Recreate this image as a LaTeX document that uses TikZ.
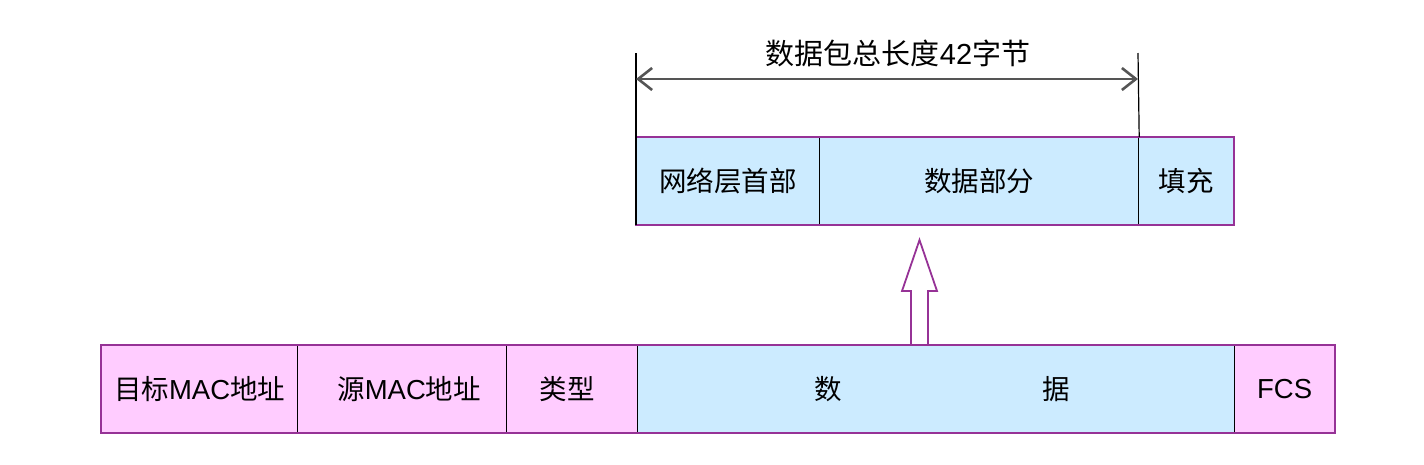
\documentclass[tikz,border=0pt]{standalone}
\usepackage{fontspec}
\setmainfont{Noto Sans CJK SC}
\newfontfamily\latin{Liberation Sans}
\usetikzlibrary{arrows.meta}
\definecolor{cellpink}{RGB}{255,204,255}
\definecolor{cellblue}{RGB}{204,235,255}
\definecolor{rim}{RGB}{150,50,150}
\definecolor{dimgray}{RGB}{85,85,85}

\begin{document}
\begin{tikzpicture}[x=1pt, y=-1pt,
    cell/.style={draw=black, line width=1.2pt, inner sep=0pt, minimum height=87pt, anchor=north west, font=\fontsize{27.5}{29}\selectfont},
    frame/.style={draw=rim, line width=2pt},
    hollow/.style={draw=rim, line width=1.8pt, fill=white, line join=miter}]
    \useasboundingbox (0,0) rectangle (1424,464);

    % Ethernet frame
    \node[cell, fill=cellpink, minimum width=196pt] (dst) at (101,345) {目标{\latin MAC}地址};
    \node[cell, fill=cellpink, minimum width=209pt] (src) at (297,345) {\hspace{14pt}源{\latin MAC}地址};
    \node[cell, fill=cellpink, minimum width=131pt] (type) at (506,345) {\hspace{-10pt}类型};
    \node[cell, fill=cellblue, minimum width=597pt] (data) at (637,345) {\hspace{12pt}数\hspace{200pt}据};
    \node[cell, fill=cellpink, minimum width=100pt] (fcs) at (1234,345) {\latin FCS};
    \draw[frame] (dst.north west) rectangle (fcs.south east);

    % IP packet
    \node[cell, fill=cellblue, minimum width=183pt] (hdr) at (636,137) {网络层首部};
    \node[cell, fill=cellblue, minimum width=319pt] (body) at (819,137) {数据部分};
    \node[cell, fill=cellblue, minimum width=95pt] (pad) at (1138,137) {填充};
    \draw[frame] (hdr.north west) rectangle (pad.south east);

    % total length
    \coordinate (dimL) at (636,53);
    \coordinate (dimR) at (1138,53);
    \coordinate (lenL) at (636,79);
    \coordinate (lenR) at (1138,79);
    \draw[line width=1.2pt] (dimL) -- (hdr.south west);
    \draw[line width=1.2pt] (dimR) -- (body.north east);
    \draw[dimgray, line width=2.6pt, {Straight Barb[length=14pt,width=22pt]}-{Straight Barb[length=14pt,width=22pt]}] (lenL) -- (lenR);
    \node[font=\fontsize{29}{31}\selectfont] (total) at (898,53) {数据包总长度{\latin 42}字节};

    % hollow arrow
    \draw[hollow] (911,345) -- (911,291) -- (902,291) -- (919.5,240) -- (937,291) -- (928,291) -- (928,345);
    \draw[frame] (data.north west) -- (data.north east);
\end{tikzpicture}
\end{document}
